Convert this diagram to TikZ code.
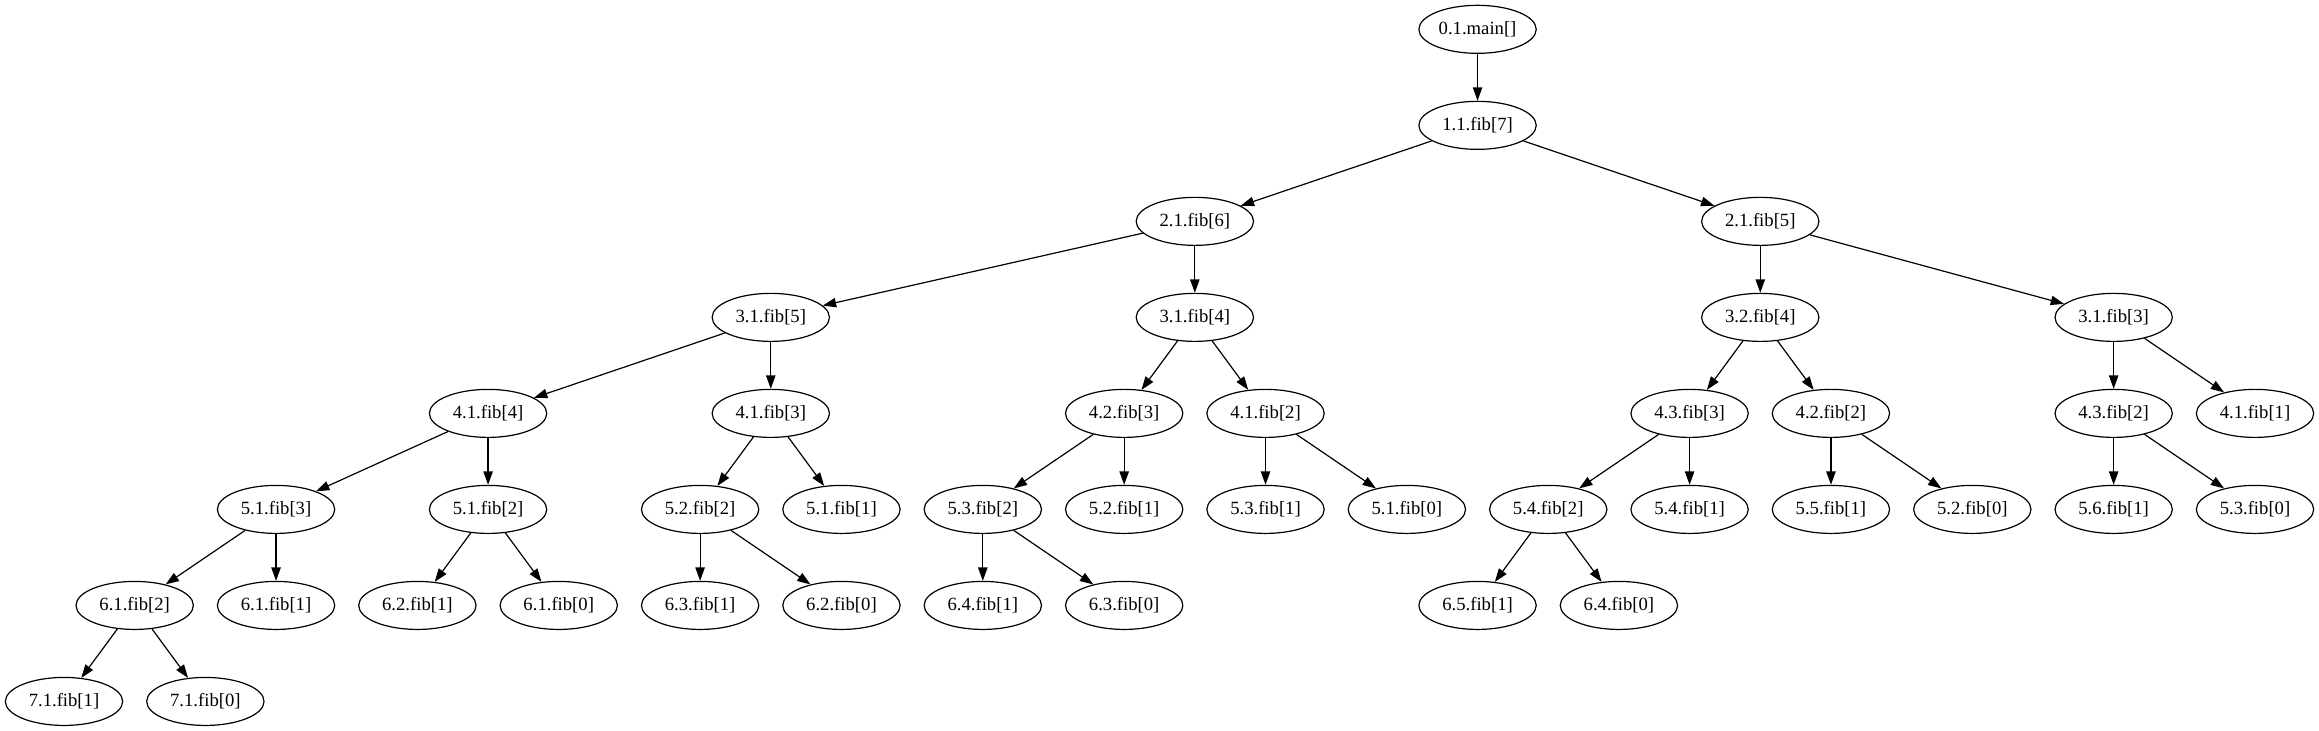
\documentclass[tikz,border=0pt]{standalone}
\usepackage{fontspec}
\setmainfont{Liberation Serif}
\usepackage{tikz}
\usetikzlibrary{shapes.geometric,arrows.meta}

\begin{document}
\begin{tikzpicture}[x=106pt, y=72pt]
        \tikzstyle{every node}=[draw, ellipse, line width=0.9pt, inner sep=0pt,
                                minimum width=88pt, minimum height=36pt,
                                font=\fontsize{14pt}{16pt}\selectfont]
        \useasboundingbox (-48pt,22pt) rectangle (1691pt,-526pt);

        \node (01main) at (10,0)    {0.1.main[]};
        \node (11f7)   at (10,-1)   {1.1.fib[7]};

        \node (21f6)   at (8,-2)    {2.1.fib[6]};
        \node (21f5)   at (12,-2)   {2.1.fib[5]};

        \node (31f5)   at (5,-3)    {3.1.fib[5]};
        \node (31f4)   at (8,-3)    {3.1.fib[4]};
        \node (32f4)   at (12,-3)   {3.2.fib[4]};
        \node (31f3)   at (14.5,-3) {3.1.fib[3]};

        \node (41f4)   at (3,-4)    {4.1.fib[4]};
        \node (41f3)   at (5,-4)    {4.1.fib[3]};
        \node (42f3)   at (7.5,-4)  {4.2.fib[3]};
        \node (41f2)   at (8.5,-4)  {4.1.fib[2]};
        \node (43f3)   at (11.5,-4) {4.3.fib[3]};
        \node (42f2)   at (12.5,-4) {4.2.fib[2]};
        \node (43f2)   at (14.5,-4) {4.3.fib[2]};
        \node (41f1)   at (15.5,-4) {4.1.fib[1]};

        \node (51f3)   at (1.5,-5)  {5.1.fib[3]};
        \node (51f2)   at (3,-5)    {5.1.fib[2]};
        \node (52f2)   at (4.5,-5)  {5.2.fib[2]};
        \node (51f1)   at (5.5,-5)  {5.1.fib[1]};
        \node (53f2)   at (6.5,-5)  {5.3.fib[2]};
        \node (52f1)   at (7.5,-5)  {5.2.fib[1]};
        \node (53f1)   at (8.5,-5)  {5.3.fib[1]};
        \node (51f0)   at (9.5,-5)  {5.1.fib[0]};
        \node (54f2)   at (10.5,-5) {5.4.fib[2]};
        \node (54f1)   at (11.5,-5) {5.4.fib[1]};
        \node (55f1)   at (12.5,-5) {5.5.fib[1]};
        \node (52f0)   at (13.5,-5) {5.2.fib[0]};
        \node (56f1)   at (14.5,-5) {5.6.fib[1]};
        \node (53f0)   at (15.5,-5) {5.3.fib[0]};

        \node (61f2)   at (0.5,-6)  {6.1.fib[2]};
        \node (61f1)   at (1.5,-6)  {6.1.fib[1]};
        \node (62f1)   at (2.5,-6)  {6.2.fib[1]};
        \node (61f0)   at (3.5,-6)  {6.1.fib[0]};
        \node (63f1)   at (4.5,-6)  {6.3.fib[1]};
        \node (62f0)   at (5.5,-6)  {6.2.fib[0]};
        \node (64f1)   at (6.5,-6)  {6.4.fib[1]};
        \node (63f0)   at (7.5,-6)  {6.3.fib[0]};
        \node (65f1)   at (10,-6)   {6.5.fib[1]};
        \node (64f0)   at (11,-6)   {6.4.fib[0]};

        \node (71f1)   at (0,-7)    {7.1.fib[1]};
        \node (71f0)   at (1,-7)    {7.1.fib[0]};

        \path[-{Triangle[length=10pt, width=7pt]}, line width=0.9pt]
                        (01main) edge (11f7)
                        (11f7) edge (21f6)  (11f7) edge (21f5)
                        (21f6) edge (31f5)  (21f6) edge (31f4)
                        (21f5) edge (32f4)  (21f5) edge (31f3)
                        (31f5) edge (41f4)  (31f5) edge (41f3)
                        (31f4) edge (42f3)  (31f4) edge (41f2)
                        (32f4) edge (43f3)  (32f4) edge (42f2)
                        (31f3) edge (43f2)  (31f3) edge (41f1)
                        (41f4) edge (51f3)  (41f4) edge (51f2)
                        (41f3) edge (52f2)  (41f3) edge (51f1)
                        (42f3) edge (53f2)  (42f3) edge (52f1)
                        (41f2) edge (53f1)  (41f2) edge (51f0)
                        (43f3) edge (54f2)  (43f3) edge (54f1)
                        (42f2) edge (55f1)  (42f2) edge (52f0)
                        (43f2) edge (56f1)  (43f2) edge (53f0)
                        (51f3) edge (61f2)  (51f3) edge (61f1)
                        (51f2) edge (62f1)  (51f2) edge (61f0)
                        (52f2) edge (63f1)  (52f2) edge (62f0)
                        (53f2) edge (64f1)  (53f2) edge (63f0)
                        (54f2) edge (65f1)  (54f2) edge (64f0)
                        (61f2) edge (71f1)  (61f2) edge (71f0);

    \end{tikzpicture}
\end{document}
